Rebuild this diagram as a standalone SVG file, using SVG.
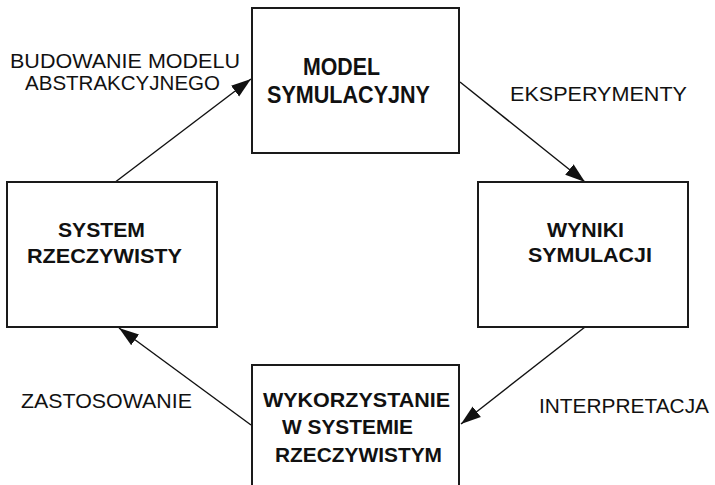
<svg xmlns="http://www.w3.org/2000/svg" width="715" height="485" viewBox="0 0 715 485">
<style>
.box{fill:#fff;stroke:#1a1a1a;stroke-width:2}
.t{font-family:"Liberation Sans",Arial,sans-serif;font-size:21px;fill:#111}
.b{font-weight:bold}
.big{font-size:24px}
.c{stroke:#111;stroke-width:1.4;fill:none;marker-end:url(#ah)}
</style>
<defs>
<marker id="ah" markerUnits="userSpaceOnUse" markerWidth="20" markerHeight="14" viewBox="0 0 18 12" refX="18" refY="6" orient="auto">
<path d="M0,0 L18,6 L0,12 Z" fill="#111"/>
</marker>
</defs>
<rect width="715" height="485" fill="#fff"/>
<g id="connectors">
<line class="c" x1="114" y1="183" x2="251" y2="79"/>
<line class="c" x1="460" y1="82" x2="585" y2="182"/>
<line class="c" x1="585" y1="327" x2="461" y2="424"/>
<line class="c" x1="251" y1="425" x2="119" y2="328"/>
</g>
<g id="model">
<rect class="box" x="252" y="8" width="207" height="145"/>
<text class="t b big" x="303" y="75" textLength="77" lengthAdjust="spacingAndGlyphs">MODEL</text>
<text class="t b big" x="267" y="103" textLength="163" lengthAdjust="spacingAndGlyphs">SYMULACYJNY</text>
</g>
<g id="system">
<rect class="box" x="7" y="182" width="210" height="145"/>
<text class="t b" x="58" y="237" textLength="87" lengthAdjust="spacingAndGlyphs">SYSTEM</text>
<text class="t b" x="27" y="263" textLength="155" lengthAdjust="spacingAndGlyphs">RZECZYWISTY</text>
</g>
<g id="wyniki">
<rect class="box" x="478" y="182" width="210" height="145"/>
<text class="t b" x="547" y="237" textLength="77" lengthAdjust="spacingAndGlyphs">WYNIKI</text>
<text class="t b" x="528" y="262" textLength="124" lengthAdjust="spacingAndGlyphs">SYMULACJI</text>
</g>
<g id="wykorzystanie">
<rect class="box" x="252" y="365" width="207" height="130"/>
<text class="t b" x="263" y="407" textLength="187" lengthAdjust="spacingAndGlyphs">WYKORZYSTANIE</text>
<text class="t b" x="282" y="434" textLength="131" lengthAdjust="spacingAndGlyphs">W SYSTEMIE</text>
<text class="t b" x="275" y="462" textLength="167" lengthAdjust="spacingAndGlyphs">RZECZYWISTYM</text>
</g>
<g id="labels">
<text class="t" x="10" y="68" textLength="230" lengthAdjust="spacingAndGlyphs">BUDOWANIE MODELU</text>
<text class="t" x="25" y="90" textLength="195" lengthAdjust="spacingAndGlyphs">ABSTRAKCYJNEGO</text>
<text class="t" x="510" y="101" textLength="177" lengthAdjust="spacingAndGlyphs">EKSPERYMENTY</text>
<text class="t" x="21" y="408" textLength="171" lengthAdjust="spacingAndGlyphs">ZASTOSOWANIE</text>
<text class="t" x="539" y="413" textLength="170" lengthAdjust="spacingAndGlyphs">INTERPRETACJA</text>
</g>
</svg>
